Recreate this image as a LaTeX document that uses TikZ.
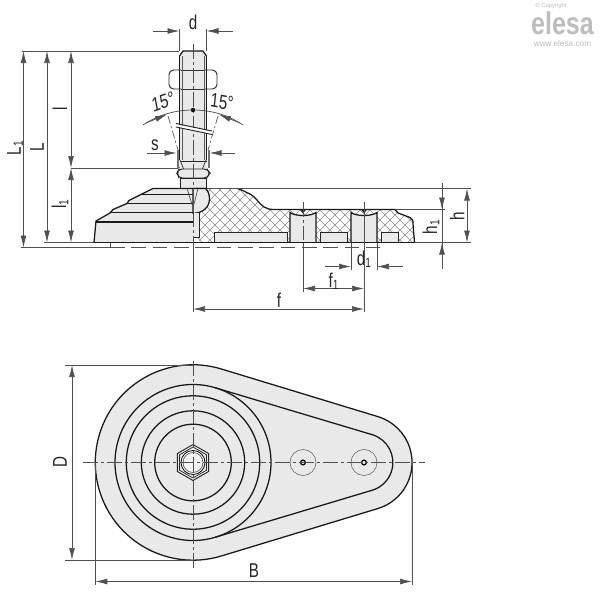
\documentclass[tikz,border=0pt]{standalone}
\usepackage{fontspec}
\setmainfont{Liberation Sans}
\usetikzlibrary{arrows.meta}
\definecolor{partgray}{HTML}{E9E9E9}
\definecolor{dimgray}{HTML}{505050}
\definecolor{hatchgray}{HTML}{8A8A8A}
\definecolor{logogray}{HTML}{BDBDBD}
\newcommand{\sub}[1]{\raisebox{-0.2ex}{\fontsize{10}{10}\selectfont #1}}
\tikzset{
  outline/.style={line width=.95pt,black!90},
  medline/.style={line width=.7pt,black!85},
  dimline/.style={line width=.55pt,dimgray},
  centerline/.style={line width=.5pt,dimgray,dash pattern=on 11pt off 2.5pt on 2pt off 2.5pt},
  hiddenline/.style={line width=.6pt,dimgray,dash pattern=on 11pt off 5pt},
  arr/.style={-{Latex[length=9pt,width=4.4pt]},line width=.55pt,dimgray},
  arrr/.style={{Latex[length=9pt,width=4.4pt]}-{Latex[length=9pt,width=4.4pt]},line width=.55pt,dimgray},
  dimlabel/.style={inner sep=0pt,font=\fontsize{15}{15}\selectfont,xscale=.76,text=black!85},
  vdimlabel/.style={inner sep=0pt,font=\fontsize{15}{15}\selectfont,yscale=.76,rotate=90,text=black!85},
  logotext/.style={inner sep=0pt,text=logogray}
}
\begin{document}
\begin{tikzpicture}[x=.75pt,y=-.75pt]
\useasboundingbox (0,0) rectangle (600,600);
\fill[white] (0,0) rectangle (600,600);

%% ---------- logo
\node[logotext,font=\fontsize{4.4}{4.4}\selectfont] (copy) at (551,5.5) {© Copyright};
\node[logotext,font=\bfseries\fontsize{18.8}{18.8}\selectfont,yscale=1.25] (logo) at (562.5,23) {elesa};
\node[logotext,font=\fontsize{6.2}{6.2}\selectfont] (www) at (562.5,44) {www.elesa.com};

%% ---------- side view: solid parts
% stud
\fill[partgray] (179.5,56) -- (183,51) -- (203,51) -- (206.5,56) -- (206.5,170) -- (179.5,170) -- cycle;
% upper nut
\draw[medline,rounded corners=3.5pt] (181,70) -- (169,70) -- (169,89) -- (181,89);
\draw[medline,rounded corners=3.5pt] (205,70) -- (217,70) -- (217,89) -- (205,89);
\draw[line width=.6pt,black!80] (181,70) -- (205,70) (181,89) -- (205,89);
\draw[outline] (179.5,56) -- (183,51) -- (203,51) -- (206.5,56);
\draw[outline] (179.5,56) -- (179.5,160) (206.5,56) -- (206.5,160);
\draw[line width=.6pt,black!65] (182,56) -- (182,160) (204,56) -- (204,160);
% gauge bars s
\fill[black!55] (176.5,150) rectangle (178.5,168);
\fill[black!55] (207.5,150) rectangle (209.5,168);
% thread end
\draw[medline] (179.5,161) -- (206.5,161);
\draw[line width=.5pt,black!80] (180,160) -- (184,170) (206,160) -- (202,170);
% lock nut
\draw[medline,fill=partgray,rounded corners=2.5pt] (193,169) -- (179,169) -- (177,173) -- (179,178) -- (207,178) -- (210,173) -- (207,169) -- cycle;
\draw[medline] (193,169) -- (193,178);
% neck
\draw[medline,fill=partgray] (180.5,178) rectangle (206.5,188);
% base, left half
\fill[partgray] (94,242.5) -- (96,221) -- (110,212) -- (113,209) -- (127,202) -- (128,200) -- (142,193) -- (153,188) -- (193,188) -- (193,242.5) -- cycle;
\draw[outline] (94,242.5) -- (96,221) -- (110,213) -- (113,209.5) -- (127,203.5) -- (129,200.5) -- (142,194) -- (153,188.5) -- (207,188.5);
\draw[outline] (96,222) -- (193,222) (110,212.5) -- (193,212.5) (128,203.5) -- (193,203.5) (142,194.5) -- (193,194.5);

%% ---------- side view: cut section
\begin{scope}
\clip (205,188.5) -- (237,188.5) .. controls (241,189) and (245,192) .. (250,194) .. controls (256,197) and (259,204) .. (264,207)
  .. controls (267,209) and (270,209.5) .. (275,209.5) -- (395,209.5) -- (398,213) -- (410,217.5) .. controls (412.5,219) and (413,220) .. (413,224) -- (414.5,242.5)
  -- (202,242.5) -- (193,237) -- (199,237) -- (199,213) -- (193,213) -- cycle;
\foreach \k in {-40,-30,...,700} {
  \draw[hatchgray,line width=.4pt] (\k,180) -- (\k+70,250);
  \draw[hatchgray,line width=.4pt] (\k+70,180) -- (\k,250);
}
\end{scope}
\draw[outline] (237,188.5) .. controls (241,189) and (245,192) .. (250,194) .. controls (256,197) and (259,204) .. (264,207)
  .. controls (267,209) and (270,209.5) .. (275,209.5);
\draw[outline] (275,209.5) -- (395,209.5) -- (398,213) -- (410,217.5) .. controls (412.5,219) and (413,220) .. (413,224) -- (414.5,242.5);
\draw[dimline] (207,188.5) -- (237,188.5);
% ball
\draw[outline,fill=partgray] (193,213.3) .. controls (203,213.3) and (209.5,207) .. (209.5,199) .. controls (209.5,195) and (208.5,191) .. (205.5,188.5) -- (193,188.5) -- cycle;
\draw[draw=none,fill=partgray] (193,213) rectangle (199,237);
\draw[medline] (199,213) -- (199,237) -- (193,237);
\draw[line width=.5pt,black!70] (187,188.5) -- (192.5,206) (198,188.5) -- (193.5,206);
% recesses
\foreach \a/\b in {214/287,320/347,381/398}{
  \draw[medline,fill=partgray] (\a,242.5) -- (\a,232.5) -- (\b,232.5) -- (\b,242.5);
}
% pin holes
\foreach \c in {303,364}{
  \draw[outline,fill=partgray] (\c-13,242.5) -- (\c-13,212.5) .. controls (\c-8,216.5) and (\c+8,216.5) .. (\c+13,212.5) -- (\c+13,242.5);
  \fill[black!85] (\c-3,209.5) -- (\c+3,209.5) -- (\c,213.5) -- cycle;
}
\draw[outline,line width=1.3pt] (94,242.5) -- (414.5,242.5);

%% ---------- side view: centre lines, angle construction
\draw[centerline] (193,44) -- (193,247);
\foreach \c in {303,364}{ \draw[centerline] (\c,202) -- (\c,240); }
\fill (193,110) circle[radius=2.2];
\draw[dimline] (143,125) .. controls (158,115) and (175,110) .. (193,110) .. controls (211,110) and (228,115) .. (243,125);
\draw[arr] (146,123) -- (167,114.5);
\draw[arr] (240,123) -- (219,114.5);
\draw[centerline,dash pattern=on 6pt off 2pt on 1.5pt off 2pt] (168,116) -- (178,150);
\draw[centerline,dash pattern=on 6pt off 2pt on 1.5pt off 2pt] (218,116) -- (208,150);
% break lines
\fill[white] (176,124.5) -- (212,131.5) -- (212,134) -- (176,127) -- cycle;
\draw[line width=.7pt,black!85] (176,123.5) -- (212,131);
\draw[line width=.7pt,black!85] (176,127) -- (212,134.5);

%% ---------- side view: reference lines
\draw[hiddenline] (110,247.5) -- (380,247.5);
\draw[dimline] (22,51) -- (179,51);
\draw[dimline] (71,168) -- (178,168);
\draw[dimline] (44,242.5) -- (94,242.5);
\draw[dimline] (21,247.5) -- (110,247.5) -- (110,242.5);
\draw[dimline] (414,242.5) -- (471,242.5);
\draw[dimline] (395,209.5) -- (445,209.5);
\draw[dimline] (237,188.5) -- (471,188.5);

%% ---------- side view: dimensions
\draw[dimline] (179.5,29) -- (179.5,51) (206.5,29) -- (206.5,51);
\draw[arr] (153,31) -- (179.5,31);
\draw[arr] (233,31) -- (206.5,31);
\node[dimlabel] (dlab) at (193,22) {d};
\draw[arr] (147,153) -- (176.5,153);
\draw[arr] (235,153) -- (209.5,153);
\node[dimlabel] (slab) at (155,145) {s};
\node[dimlabel,rotate=15] (anga) at (163,102) {15°};
\node[dimlabel,rotate=-8] (angb) at (222,102) {15°};
\draw[arrr] (23.5,51) -- (23.5,247.5);
\draw[arrr] (47,51) -- (47,242.5);
\draw[arrr] (71,51) -- (71,168);
\draw[arrr] (71,168) -- (71,242.5);
\node[vdimlabel] (lonelab) at (15,148) {L\sub{1}};
\node[vdimlabel] (llab) at (37,147) {L};
\node[vdimlabel] (smalllab) at (60,109) {l};
\node[vdimlabel] (slonelab) at (60,204) {l\sub{1}};
\draw[arrr] (467,188.5) -- (467,242.5);
\node[vdimlabel] (hlab) at (457,216) {h};
\draw[dimline] (442,183) -- (442,269);
\draw[arr] (442,183) -- (442,209.5);
\draw[arr] (442,269) -- (442,242.5);
\node[vdimlabel] (honelab) at (431,227) {h\sub{1}};
\draw[dimline] (351,243) -- (351,270) (377,243) -- (377,270);
\draw[arr] (325,266.5) -- (351,266.5);
\draw[arr] (403,266.5) -- (377,266.5);
\node[dimlabel] (donelab) at (364,259.5) {d\sub{1}};
\draw[dimline] (303,243) -- (303,292);
\draw[dimline] (364,203) -- (364,312);
\draw[arrr] (303,288.5) -- (364,288.5);
\node[dimlabel] (fonelab) at (333.5,281) {f\sub{1}};
\draw[dimline] (193,247) -- (193,312);
\draw[arrr] (193,309) -- (364,309);
\node[dimlabel] (flab) at (279,300) {f};

%% ---------- top view
\def\cy{462.5}
\draw[outline,fill=partgray] (221.4,369) arc[start angle=-73.1,end angle=-286.9,radius=97.7] -- (378,508.5) arc[start angle=73.1,end angle=-73.1,radius=48] -- cycle;
\draw[outline] (215.3,387.8) -- (372.3,434.7) arc[start angle=-73.1,end angle=73.1,radius=29] -- (215.3,537.2);
\foreach \r in {78,66.7,51.7,38.3}{ \draw[outline] (193,\cy) circle[radius=\r]; }
% hexagon and bore
\draw[medline] (193,\cy-18) -- (208.6,\cy-9) -- (208.6,\cy+9) -- (193,\cy+18) -- (177.4,\cy+9) -- (177.4,\cy-9) -- cycle;
\draw[line width=.55pt,black!85] (193,\cy-15.5) -- (206.4,\cy-7.75) -- (206.4,\cy+7.75) -- (193,\cy+15.5) -- (179.6,\cy+7.75) -- (179.6,\cy-7.75) -- cycle;
\draw[line width=.55pt,fill=partgray!50] (193,\cy) circle[radius=12];
\draw[line width=.45pt,black!70] (193,\cy) circle[radius=10];
% pin seats
\foreach \c in {303,364}{
  \draw[line width=.4pt,black!65] (\c,\cy) circle[radius=13];
  \draw[line width=.9pt,fill=partgray] (\c,\cy) circle[radius=2.4];
}
\draw[centerline] (83,\cy) -- (425,\cy);
\draw[centerline] (193,361) -- (193,570);

%% ---------- top view: dimensions
\draw[dimline] (65,365) -- (193,365);
\draw[dimline] (65,560) -- (193,560);
\draw[arrr] (72,365) -- (72,560);
\node[vdimlabel] (Dlab) at (60,462.5) {D};
\draw[dimline] (95.3,\cy) -- (95.3,585);
\draw[dimline] (412,\cy) -- (412,585);
\draw[arrr] (95.3,581.5) -- (412,581.5);
\node[dimlabel] (Blab) at (254,571) {B};
\end{tikzpicture}
\end{document}
